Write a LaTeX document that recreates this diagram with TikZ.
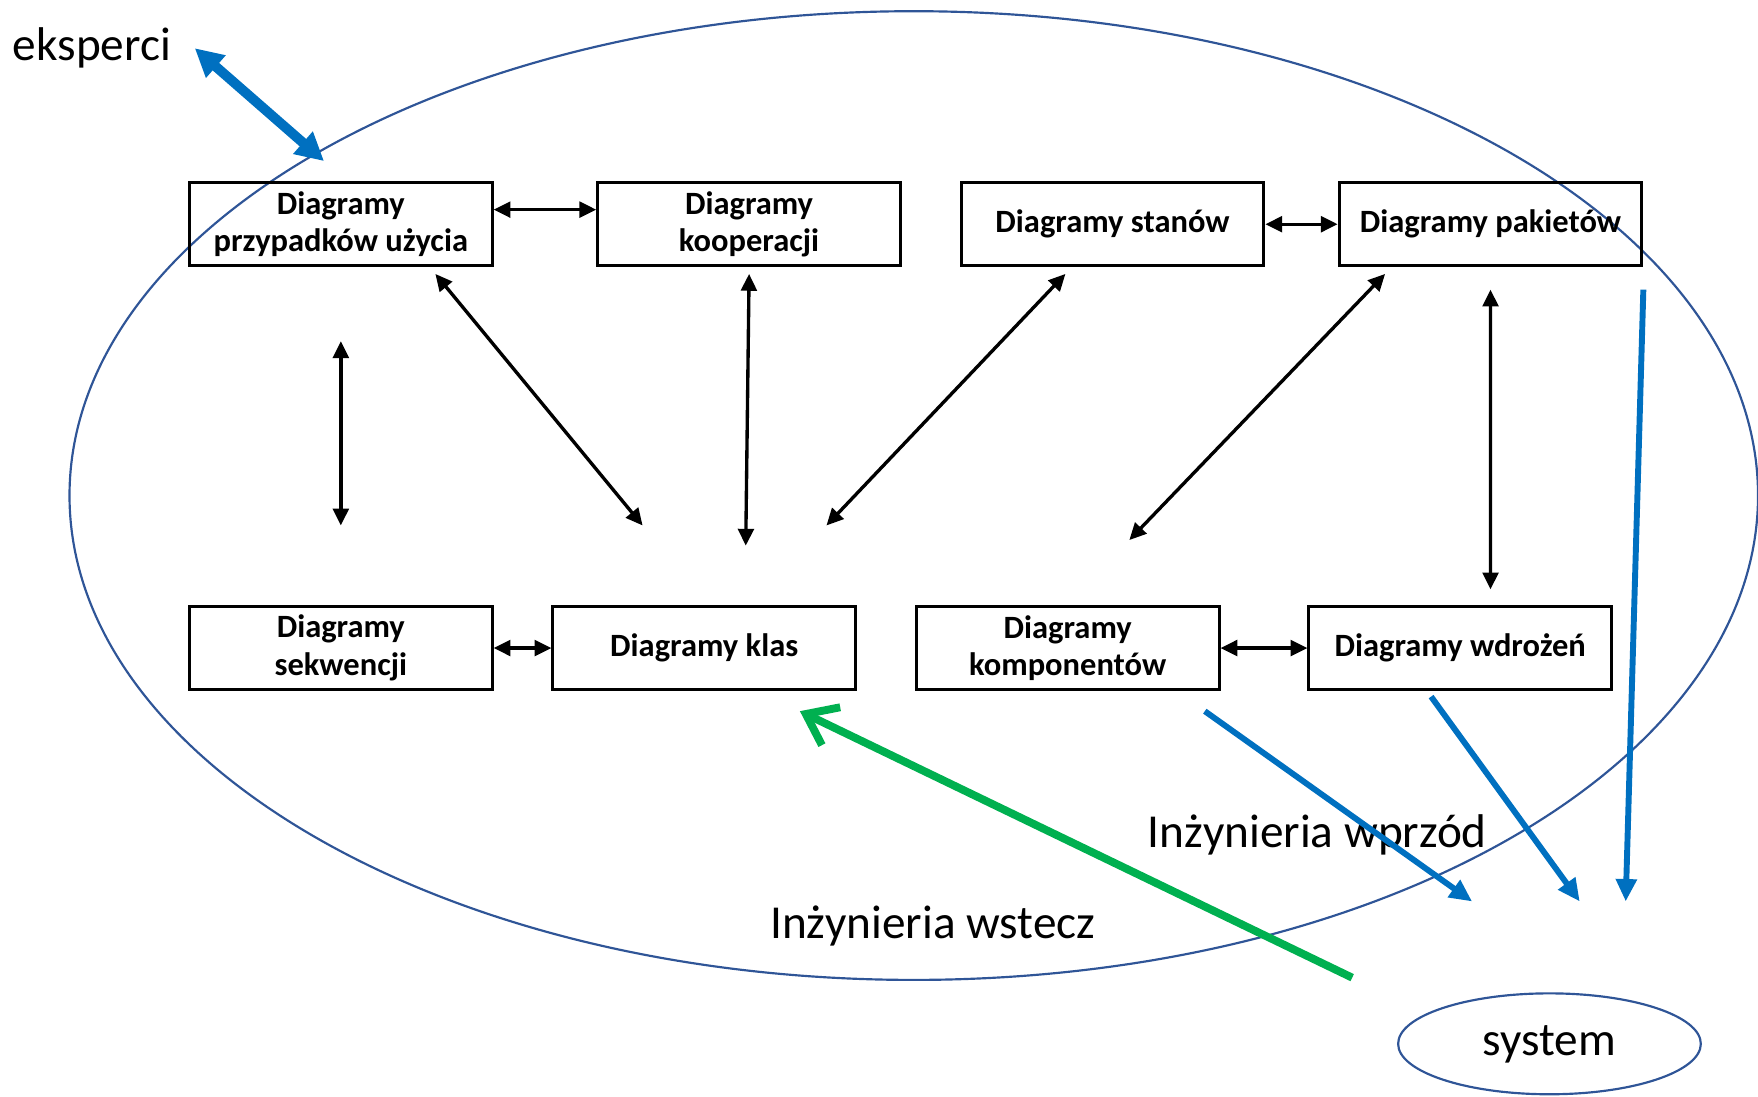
\documentclass[tikz,border=0pt]{standalone}
\usepackage{fontspec}
\setmainfont{Carlito}
\usetikzlibrary{positioning, arrows.meta, shapes.geometric}
\definecolor{fwdcol}{RGB}{0, 112, 192}
\definecolor{revcol}{RGB}{0, 176, 80}
\definecolor{ellcol}{RGB}{47, 85, 151}
\tikzset{
  diag/.style={draw, line width=1.5pt, minimum width=5.4cm, minimum height=1.48cm,
               align=center, font=\fontsize{16.5}{19}\selectfont\bfseries},
  link/.style={{Triangle[length=3mm, width=2.8mm]}-{Triangle[length=3mm, width=2.8mm]},
               line width=1.7pt},
  fwd/.style={-{Triangle[length=4mm, width=3.6mm]}, line width=3pt, fwdcol},
  expert/.style={{Triangle[length=5mm, width=5mm]}-{Triangle[length=5mm, width=5mm]},
                 line width=5pt, fwdcol},
  rev/.style={-{Straight Barb[length=5mm, width=7.5mm]}, line width=4pt, revcol},
  big/.style={font=\fontsize{24}{28}\selectfont},
}

\begin{document}
\begin{tikzpicture}
  \useasboundingbox (0,0) rectangle (31.36,19.56);
  \draw[ellcol, line width=1.1pt] (16.3,10.72) ellipse [x radius=15.06cm, y radius=8.64cm];

  \node[diag] (uc) at (6.08,15.56) {Diagramy\\przypadków użycia};
  \node[diag, right=1.83cm of uc] (coop) {Diagramy\\kooperacji};
  \node[diag, right=1.03cm of coop] (state) {Diagramy stanów};
  \node[diag, right=1.29cm of state] (pkg) {Diagramy pakietów};
  \node[diag] (seq) at (6.08,8.00) {Diagramy\\sekwencji};
  \node[diag, right=1.03cm of seq] (cls) {Diagramy klas};
  \node[diag, right=1.03cm of cls] (comp) {Diagramy\\komponentów};
  \node[diag, right=1.55cm of comp] (depl) {Diagramy wdrożeń};

  \node[big] (ek) at (1.64,18.70) {eksperci};
  \node[big] (wprzod) at (23.5,4.66) {Inżynieria wprzód};
  \node[big] (wstecz) at (16.64,3.04) {Inżynieria wstecz};
  \node[big, ellipse, draw=ellcol, line width=1.1pt, minimum width=5.4cm,
        minimum height=1.8cm, text depth=0.1cm] (sys) at (27.64,0.94) {system};

  % powiazania miedzy diagramami
  \draw[link] ([yshift=0.26cm]uc.east) -- ([yshift=0.26cm]coop.west);
  \draw[link] (state) -- (pkg);
  \draw[link] (seq) -- (cls);
  \draw[link] (comp) -- (depl);
  \draw[link, shorten <=1.32cm, shorten >=1.42cm] (uc.south) -- (seq.north);
  \draw[link] ([xshift=-1.04cm, yshift=-0.12cm]uc.south east) -- ([xshift=-1.1cm, yshift=1.42cm]cls.north);
  \draw[link] ([yshift=-0.12cm]coop.south) -- ([xshift=0.74cm, yshift=1.06cm]cls.north);
  \draw[link] ([xshift=-0.84cm, yshift=-0.12cm]state.south) -- ([xshift=2.18cm, yshift=1.42cm]cls.north);
  \draw[link] ([xshift=-1.88cm, yshift=-0.12cm]pkg.south) -- ([xshift=1.1cm, yshift=1.16cm]comp.north);
  \draw[link] ([yshift=-0.4cm]pkg.south) -- ([xshift=0.54cm, yshift=0.28cm]depl.north);

  % eksperci, inzynieria wprzod i wstecz
  \draw[expert] ([xshift=0.3cm]ek.east) -- ([xshift=-0.3cm, yshift=0.36cm]uc.north);
  \draw[fwd] ([xshift=-0.28cm, yshift=-0.36cm]comp.south east) -- ([xshift=-1.38cm, yshift=1.62cm]sys.north);
  \draw[fwd] ([xshift=-0.52cm, yshift=-0.1cm]depl.south) -- ([xshift=0.54cm, yshift=1.62cm]sys.north);
  \draw[fwd] ([yshift=-0.4cm]pkg.south east) -- ([xshift=1.36cm, yshift=1.62cm]sys.north);
  \draw[rev] ([xshift=-0.8cm, yshift=1.18cm]sys.west) -- ([xshift=-1.02cm, yshift=-0.36cm]cls.south east);
\end{tikzpicture}
\end{document}
